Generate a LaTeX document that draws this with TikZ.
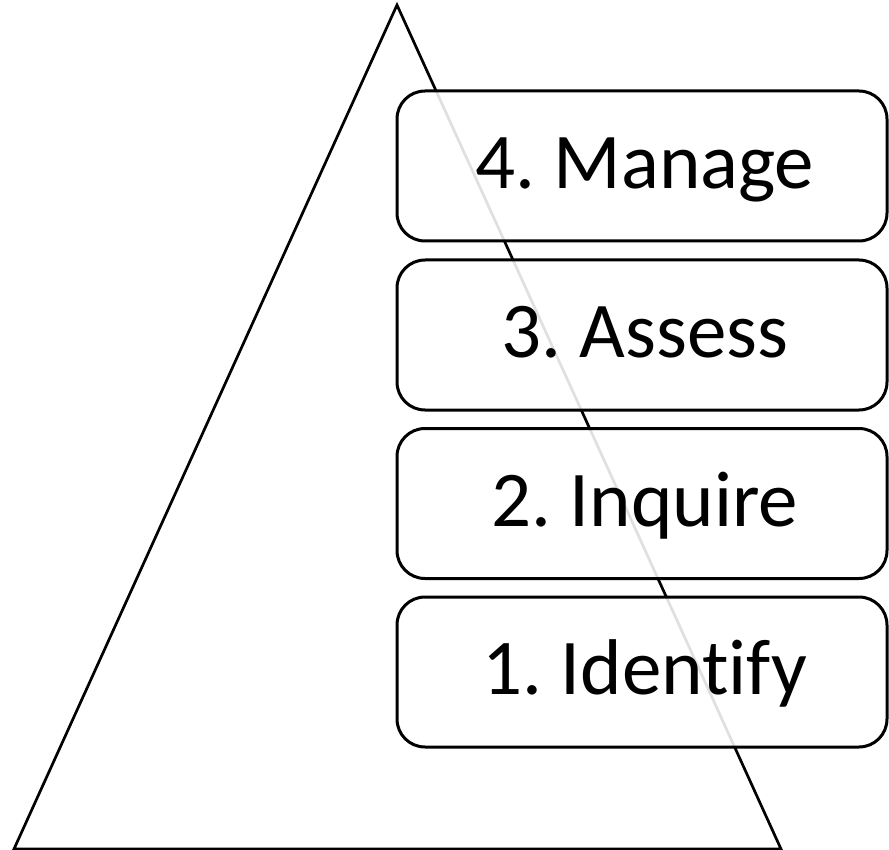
\documentclass[tikz,border=0pt]{standalone}
\usepackage{fontspec}
\setmainfont[Ligatures=NoCommon]{Carlito}
\frenchspacing
\begin{document}
\begin{tikzpicture}[x=1pt,y=-1pt,
  tri/.style={draw=black, line width=2.7pt, line join=miter},
  stagebox/.style={draw=black, line width=3pt, rounded corners=28pt,
    fill=white, fill opacity=0.88, text opacity=1, draw opacity=1,
    minimum width=490pt, minimum height=150pt, inner sep=0pt,
    font=\fontsize{79}{90}\selectfont, text height=50pt, text depth=5pt}]
\useasboundingbox (0,0) rectangle (889,850);
\coordinate (apex) at (397,5);
\coordinate (bl) at (14,849);
\coordinate (br) at (781,849);
\draw[tri] (bl) -- (apex) -- (br) -- cycle;
\node[stagebox] (s4) at (642,166) {\hspace*{6pt}4. Manage};
\node[stagebox] (s3) at (642,335) {\hspace*{6pt}3. Assess};
\node[stagebox] (s2) at (642,503.5) {\hspace*{6pt}2. Inquire};
\node[stagebox] (s1) at (642,672) {\hspace*{6pt}1. Identify};
\end{tikzpicture}
\end{document}
